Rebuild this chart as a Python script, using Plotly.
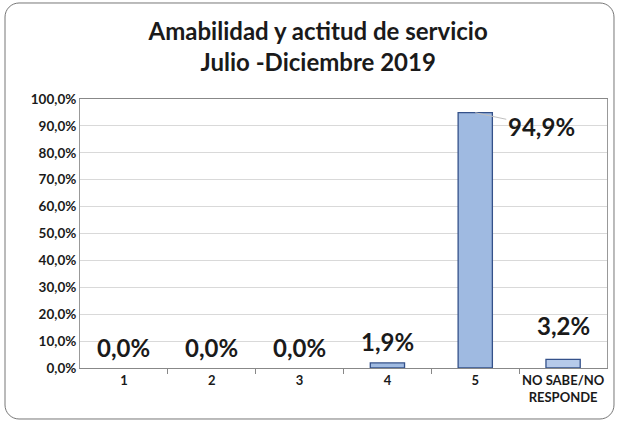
import math
import plotly.graph_objects as go

categories = ["1", "2", "3", "4", "5", "NO SABE/NO<br>RESPONDE"]
values = [0.0, 0.0, 0.0, 0.019, 0.949, 0.032]
labels = ["0,0%", "0,0%", "0,0%", "1,9%", "94,9%", "3,2%"]

W, H = 619, 423
ML, MR, MT, MB = 80, 12, 99, 55
pw, ph = W - ML - MR, H - MT - MB

def px2paper(x, y):
    return (x - ML) / pw, (H - MB - y) / ph

def rounded_rect(x0, y0, x1, y1, r):
    pts = []
    corners = [(x1 - r, y0 + r, -90, 0), (x1 - r, y1 - r, 0, 90),
               (x0 + r, y1 - r, 90, 180), (x0 + r, y0 + r, 180, 270)]
    for cx, cy, a0, a1 in corners:
        for k in range(9):
            a = math.radians(a0 + (a1 - a0) * k / 8)
            pts.append(px2paper(cx + r * math.cos(a), cy + r * math.sin(a)))
    return "M " + " L ".join(f"{x:.5f},{y:.5f}" for x, y in pts) + " Z"

font_main = "Lato, 'Open Sans', sans-serif"
idx = list(range(len(categories)))
bar_colors = ["#9FBAE1"] * 5 + ["#B6CAEA"]
line_widths = [1.3 if v > 0 else 0 for v in values]

fig = go.Figure()
fig.add_trace(go.Bar(
    x=idx, y=values, width=0.39,
    marker=dict(color=bar_colors, line=dict(color="#34518A", width=line_widths)),
    hoverinfo="skip",
))

shifts = [21, 21, 21, 21, 0, 34]
label_font = dict(family=font_main, size=24, color="#1a1a1a", weight="bold")
annotations = []
for i, v, t, s in zip(idx, values, labels, shifts):
    if v > 0.5:
        annotations.append(dict(
            x=i, y=v, text=t, showarrow=True, arrowhead=0, arrowwidth=1,
            arrowcolor="#C0C0C0", ax=66, ay=14, xref="x", yref="y",
            font=label_font,
        ))
    else:
        annotations.append(dict(
            x=i, y=v, text=t, showarrow=False, yshift=s, yanchor="middle",
            xref="x", yref="y", font=label_font,
        ))

fig.update_layout(
    width=W, height=H,
    margin=dict(l=ML, r=MR, t=MT, b=MB, autoexpand=False),
    paper_bgcolor="white", plot_bgcolor="white",
    separators=",.",
    showlegend=False,
    title=dict(
        text="Amabilidad y actitud de servicio<br>Julio -Diciembre 2019",
        x=0.514, xanchor="center", y=0.905, yanchor="top",
        font=dict(family=font_main, size=24, color="#1a1a1a", weight="bold"),
    ),
    xaxis=dict(
        range=[-0.5, 5.5], tickmode="array", tickvals=idx, ticktext=categories,
        tickangle=0, showgrid=False, ticks="", showline=True, linecolor="#888888",
        linewidth=1, mirror=True, zeroline=False, automargin=False,
        minor=dict(tickvals=[i + 0.5 for i in idx[:-1]], ticks="outside",
                   ticklen=5, tickcolor="#888888"),
        tickfont=dict(family=font_main, size=13, color="#1a1a1a", weight="bold"),
    ),
    yaxis=dict(
        range=[0, 1], dtick=0.1, tickformat=".1%", showgrid=True,
        gridcolor="#D9D9D9", gridwidth=1, showline=True, linecolor="#999999",
        mirror=True, zeroline=False, ticks="", automargin=False,
        tickfont=dict(family=font_main, size=13.5, color="#1a1a1a", weight="bold"),
    ),
    annotations=annotations,
    shapes=[dict(type="path", xref="paper", yref="paper",
                 path=rounded_rect(5, 3, 614, 419, 14),
                 line=dict(color="#777777", width=1), fillcolor="rgba(0,0,0,0)",
                 layer="below")],
)

fig.write_html("out.html", config={"displayModeBar": False},
               post_script="document.body.style.margin='0';document.body.style.overflow='hidden';")
